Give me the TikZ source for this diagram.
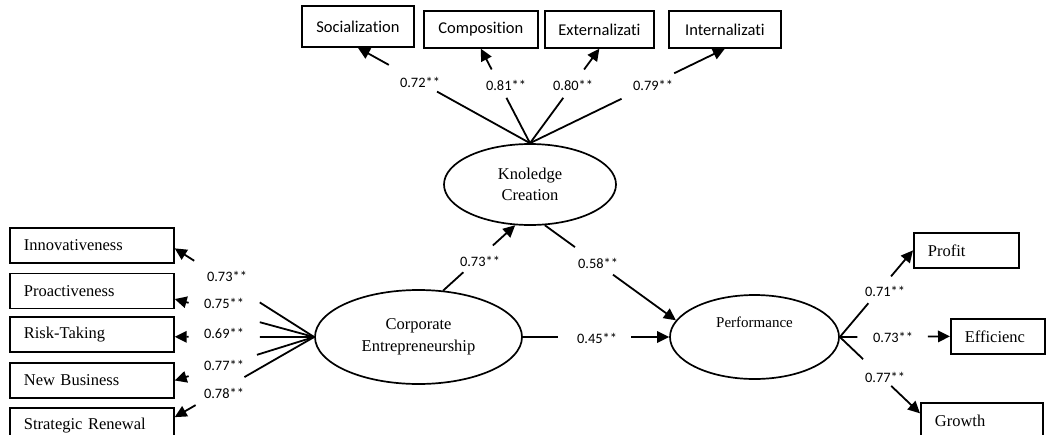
\documentclass[tikz,border=0pt]{standalone}
\usepackage{fontspec}
\setmainfont{Liberation Serif}
\newfontfamily\calfont[Ligatures=NoCommon]{Carlito}
\usetikzlibrary{positioning}
\usetikzlibrary{shapes.geometric}
\usetikzlibrary{arrows.meta}
\usetikzlibrary{calc}
\tikzset{
	latent/.style={
		draw, ellipse, line width=1.7pt, inner sep=0pt,
		align=center, font=\fontsize{16.5}{21.5}\selectfont},
	item/.style={
		draw, rectangle, line width=1.7pt, minimum height=35pt,
		inner xsep=14pt, inner ysep=0pt, text width=136pt, align=left,
		anchor=north west, font=\fontsize{16.5}{20}\selectfont},
	dim/.style={
		draw, rectangle, line width=1.7pt, minimum height=37pt,
		inner sep=0pt, anchor=north west, font=\calfont\fontsize{16.5}{20}\selectfont},
	coef/.style={inner sep=1pt, font=\calfont\fontsize{14.4}{16}\selectfont},
	link/.style={line width=1.8pt},
	arr/.style={link, -{Triangle[length=12pt,width=11.5pt]}}
}

\begin{document}
\begin{tikzpicture}[x=1pt, y=-1pt]
	\useasboundingbox (0,0) rectangle (1046,434);
	% latent variables
	\node[latent, minimum width=172pt, minimum height=81pt] (kc) at (530,184.5) {Knoledge\\Creation};
	\node[latent, minimum width=207pt, minimum height=94pt] (ce) at (418.5,337) {Corporate\\Entrepreneurship};
	\node[latent, minimum width=169pt, minimum height=84pt, font=\fontsize{15}{18}\selectfont,
		text height=11pt, text depth=31pt] (perf) at (754.5,337) {Performance};
	% knowledge creation items
	\node[dim, minimum width=112pt, minimum height=41pt] (soc) at (301,5) {Socialization};
	\node[dim, minimum width=114pt] (comp) at (423,10) {Composition};
	\node[dim, minimum width=109pt] (ext) at (544,10) {Externalizati};
	\node[dim, minimum width=112pt] (int) at (668,10) {Internalizati};
	% entrepreneurship items
	\node[item] (inno) at (9,227) {Innovativeness};
	\node[item, below=9pt of inno] (pro) {Proactiveness};
	\node[item, below=7pt of pro] (risk) {Risk-Taking};
	\node[item, below=9pt of risk] (nb) {New Business};
	\node[item, below=8pt of nb] (sr) {Strategic Renewal};
	% performance items
	\node[item, text width=77pt] (profit) at (913,232) {Profit};
	\node[item, text width=66pt] (eff) at (950,318) {Efficienc};
	\node[item, text width=94pt] (grow) at (920,402) {Growth};

	% loadings
	\foreach \bx/\lo/\hi in {soc/.54/.82, comp/.48/.78, ext/.48/.78, int/.47/.74}{
		\draw[link] (kc.north) -- ($(kc.north)!\lo!(\bx.south)$);
		\draw[arr] ($(kc.north)!\hi!(\bx.south)$) -- (\bx.south);
	}
	\foreach \bx/\dy/\lo/\hi in {inno/-3pt/.39/.86, pro/-8pt/.39/.9, risk/-2pt/.39/.9, nb/0pt/.41/.9, sr/8pt/.50/.85}{
		\draw[link] (ce.west) -- ($(ce.west)!\lo!([yshift=\dy]\bx.east)$);
		\draw[arr] ($(ce.west)!\hi!([yshift=\dy]\bx.east)$) -- ([yshift=\dy]\bx.east);
	}
	\draw[link] (perf.east) -- ($(perf.east)!.39!(profit.west)$);
	\draw[arr] ($(perf.east)!.70!(profit.west)$) -- (profit.west);
	\draw[link] (perf.east) -- ($(perf.east)!.16!(eff.west)$);
	\draw[arr] ($(perf.east)!.80!(eff.west)$) -- (eff.west);
	\draw[link] (perf.east) -- ($(perf.east)!.29!([yshift=7pt]grow.west)$);
	\draw[arr] ($(perf.east)!.64!([yshift=7pt]grow.west)$) -- ([yshift=7pt]grow.west);

	% structural paths
	\draw[link] (ce.62) -- ($(ce.62)!.28!(kc.250)$);
	\draw[arr] ($(ce.62)!.69!(kc.250)$) -- (kc.250);
	\draw[link] (kc.290) -- ($(kc.290)!.23!(perf.168)$);
	\draw[arr] ($(kc.290)!.52!(perf.168)$) -- (perf.168);
	\draw[link] (ce.east) -- ($(ce.east)!.24!(perf.west)$);
	\draw[arr] ($(ce.east)!.74!(perf.west)$) -- (perf.west);

	% coefficients
	\node[coef] (lsoc) at (420,82) {0.72**};
	\node[coef] (lcomp) at (506,85) {0.81**};
	\node[coef] (lext) at (573,85) {0.80**};
	\node[coef] (lint) at (653,85) {0.79**};
	\node[coef] (linno) at (227,276) {0.73**};
	\node[coef] (lpro) at (224,303) {0.75**};
	\node[coef] (lrisk) at (224,333) {0.69**};
	\node[coef] (lnb) at (224,365) {0.77**};
	\node[coef] (lsr) at (224,393) {0.78**};
	\node[coef] (lcekc) at (480,261) {0.73**};
	\node[coef] (lkcp) at (598,263) {0.58**};
	\node[coef] (lcep) at (597,338) {0.45**};
	\node[coef] (lprofit) at (885,291) {0.71**};
	\node[coef] (leff) at (893,337) {0.73**};
	\node[coef] (lgrow) at (885,377) {0.77**};
\end{tikzpicture}
\end{document}
